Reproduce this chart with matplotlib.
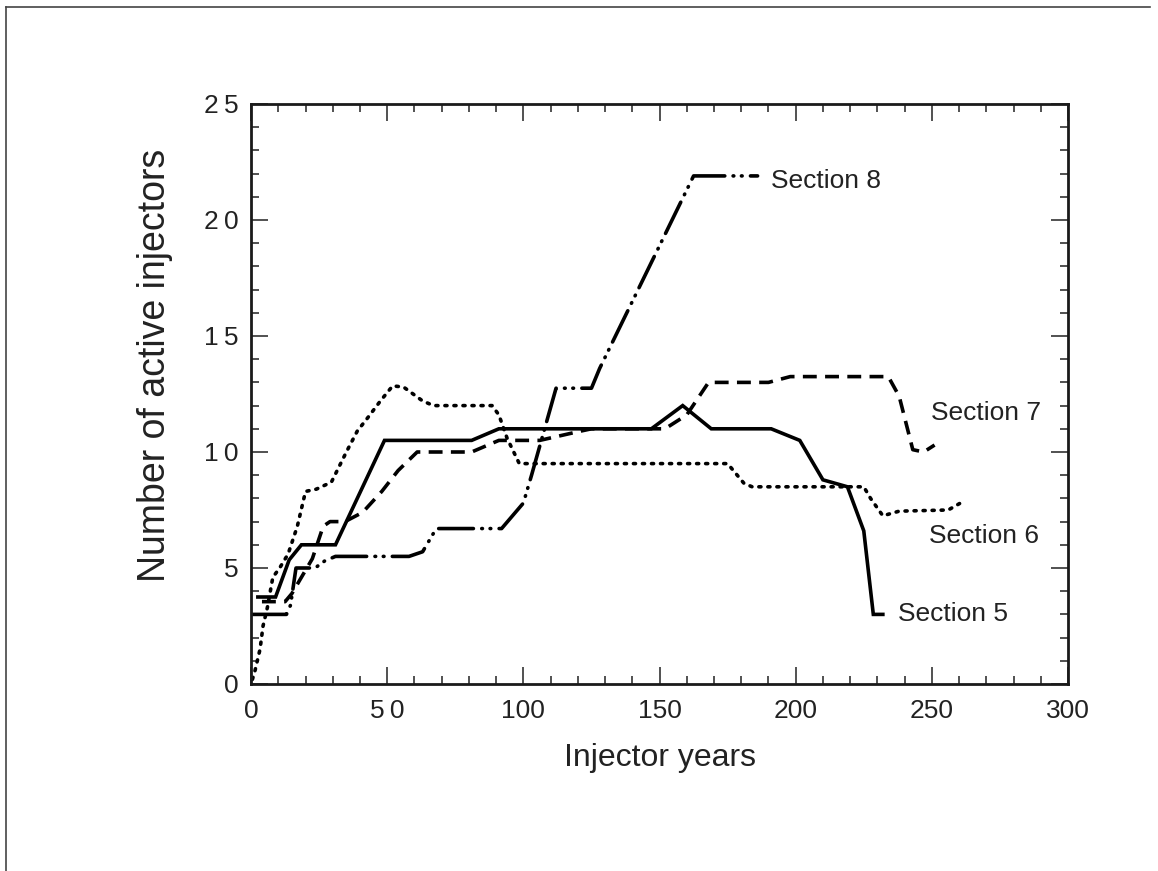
import matplotlib
matplotlib.use("Agg")
import matplotlib.pyplot as plt
from matplotlib.lines import Line2D

plt.rcParams['font.family'] = ['Liberation Sans', 'DejaVu Sans']
plt.rcParams['lines.scale_dashes'] = False

# injector years vs number of active injectors, per section
sec5_x = [2.5, 9, 14, 18.5, 31, 49, 81, 91, 147, 158.5, 169, 191, 201.5, 210, 219, 225, 228.5, 232]
sec5_y = [3.75, 3.75, 5.35, 6, 6, 10.5, 10.5, 11, 11, 12, 11, 11, 10.5, 8.8, 8.5, 6.6, 3, 3]

sec6_x = [0.5, 1.5, 3.3, 4.4, 6, 8, 10.5, 13.6, 17, 20, 24, 29.5, 35, 39, 43, 47.5, 52, 56,
          63, 67, 88.5, 91, 94, 98.5, 175, 181, 184, 225, 227.5, 232, 238, 256, 262]
sec6_y = [0.2, 0.6, 1.5, 2.5, 3.3, 4.6, 5.0, 5.6, 6.8, 8.3, 8.4, 8.7, 10, 10.9, 11.5, 12.2, 12.85, 12.8,
          12.2, 12, 12, 11.6, 10.6, 9.5, 9.5, 8.65, 8.5, 8.5, 8.0, 7.25, 7.45, 7.5, 7.9]

sec7_x = [4, 12.5, 15, 20, 22.5, 26.5, 29, 34.5, 41, 48, 54, 61, 81, 91, 106, 121, 125,
          152, 160, 168, 190, 198, 234, 238, 243, 247, 251]
sec7_y = [3.55, 3.55, 3.9, 4.9, 5.4, 6.8, 7, 7, 7.4, 8.3, 9.2, 10, 10, 10.5, 10.5, 10.9, 11,
          11, 11.6, 13, 13, 13.25, 13.25, 12.4, 10.1, 10, 10.3]

sec8_x = [0.5, 13, 14.5, 16.5, 23.5, 27, 31, 58, 63, 68, 92, 100, 103, 109, 112, 125, 128, 162.5, 186]
sec8_y = [3, 3, 3.4, 5, 5, 5.3, 5.5, 5.5, 5.7, 6.7, 6.7, 7.8, 9, 11.5, 12.75, 12.75, 13.6, 21.9, 21.9]

labels = ["Section 5", "Section 6", "Section 7", "Section 8"]
label_x = [237.5, 249, 249.5, 191]
label_y = [3.0, 6.4, 11.7, 21.7]

fig = plt.figure(figsize=(11.58, 8.71), dpi=100)
ax = fig.add_axes([0.2168, 0.2147, 0.7055, 0.6659])

lw = 2.6
ax.plot(sec5_x, sec5_y, color='black', lw=lw, solid_joinstyle='miter')
ax.plot(sec6_x, sec6_y, color='black', lw=lw, dashes=(1.5, 5.0), dash_capstyle='round')
ax.plot(sec7_x, sec7_y, color='black', lw=lw, dashes=(10, 6))
ax.plot(sec8_x, sec8_y, color='black', lw=lw, dashes=(25, 6, 0.5, 5.5, 0.5, 6), dash_capstyle='round')

for txt, tx, ty in zip(labels, label_x, label_y):
    ax.text(tx, ty, txt, fontsize=19, color='#222222', ha='left', va='center')

ax.set_xlim(0, 300)
ax.set_ylim(0, 25)
ax.set_xticks([0, 50, 100, 150, 200, 250, 300])
ax.set_xticklabels(["0", "5\u20090", "100", "150", "200", "250", "300"])
ax.set_yticks([0, 5, 10, 15, 20, 25])
ax.set_yticklabels(["0", "5", "1\u20090", "1\u20095", "2\u20090", "2\u20095"])
ax.set_xticks(range(0, 301, 10), minor=True)
ax.set_yticks(range(0, 26), minor=True)

ax.tick_params(which='both', direction='in', top=True, right=True, width=1.1,
               labelsize=19, colors='#222222')
ax.tick_params(which='major', length=12)
ax.tick_params(which='minor', length=6)
ax.tick_params(axis='x', pad=11)
ax.tick_params(axis='y', pad=9)
for sp in ax.spines.values():
    sp.set_linewidth(2.0)
    sp.set_color('#1a1a1a')

ax.set_xlabel("Injector years", fontsize=23, color='#222222', labelpad=14)
ax.set_ylabel("Number of active injectors", fontsize=27, color='#222222')
ax.yaxis.set_label_coords(-0.095, 0.55)

# page border, top and left edges
fig.add_artist(Line2D([0.005, 0.993], [0.992, 0.992], color='#444444', lw=1.2))
fig.add_artist(Line2D([0.005, 0.005], [0.0, 0.992], color='#444444', lw=1.2))

fig.savefig("out.png", dpi=100)
